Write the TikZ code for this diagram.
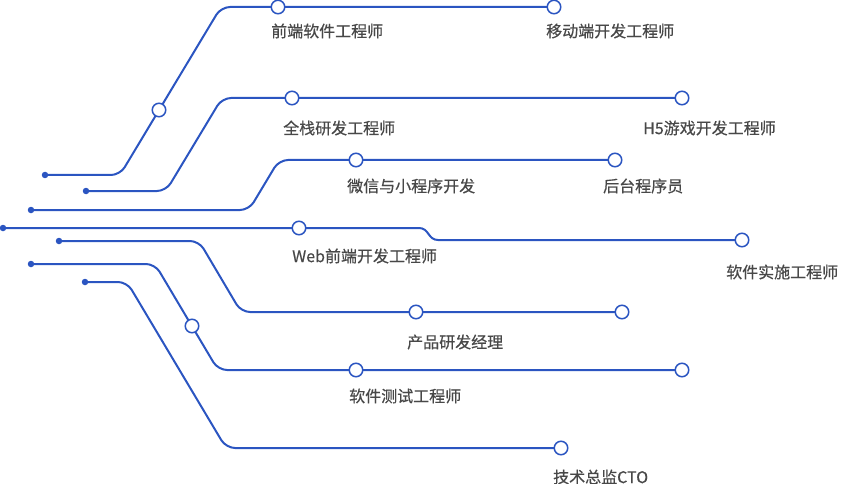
\documentclass[tikz,border=0pt]{standalone}
\usepackage{fontspec}
\setmainfont{Noto Sans CJK SC}
\newfontfamily\jobfont[FakeBold=0.5]{Noto Sans CJK SC}
\usetikzlibrary{backgrounds}
\definecolor{metro}{HTML}{2B55C1}
\definecolor{inkgray}{HTML}{484848}
\begin{document}
\begin{tikzpicture}[x=1pt,y=-1pt,
    route/.style={draw=metro,line width=2pt,rounded corners=9pt},
    origin/.style={circle,fill=metro,inner sep=0pt,minimum size=6.5pt},
    stop/.style={circle,draw=metro,fill=white,line width=1.5pt,inner sep=0pt,minimum size=13.5pt},
    job/.style={anchor=west,inner sep=0pt,text=inkgray,font=\jobfont\fontsize{16}{19}\selectfont}]
    \useasboundingbox (0,0) rectangle (849,484);
    % start points
    \node[origin] (d1) at (45,175) {};
    \node[origin] (d2) at (86,191) {};
    \node[origin] (d3) at (31,210) {};
    \node[origin] (d4) at (3,228) {};
    \node[origin] (d5) at (59,241) {};
    \node[origin] (d6) at (31,264) {};
    \node[origin] (d7) at (85,282) {};
    % stations
    \node[stop] (m1) at (159,110) {};
    \node[stop] (s1) at (278,7) {};
    \node[stop] (e1) at (554,7) {};
    \node[stop] (s2) at (292,98) {};
    \node[stop] (e2) at (682,98) {};
    \node[stop] (s3) at (356,160) {};
    \node[stop] (e3) at (615,160) {};
    \node[stop] (s4) at (299,228) {};
    \node[stop] (e4) at (742,240) {};
    \node[stop] (s5) at (416,312) {};
    \node[stop] (e5) at (622,312) {};
    \node[stop] (m6) at (192,326) {};
    \node[stop] (s6) at (356,370) {};
    \node[stop] (e6) at (682,370) {};
    \node[stop] (e7) at (561,448) {};
    % labels
    \node[job] (l1a) at (271,31) {前端软件工程师};
    \node[job] (l1b) at (546,31) {移动端开发工程师};
    \node[job] (l2a) at (283,128) {全栈研发工程师};
    \node[job] (l2b) at (643,128) {H5游戏开发工程师};
    \node[job] (l3a) at (347,186) {微信与小程序开发};
    \node[job] (l3b) at (603,186) {后台程序员};
    \node[job] (l4a) at (292,256) {Web前端开发工程师};
    \node[job] (l4b) at (726,272) {软件实施工程师};
    \node[job] (l5a) at (407,342) {产品研发经理};
    \node[job] (l6a) at (349,396) {软件测试工程师};
    \node[job] (l7a) at (553,477) {技术总监CTO};
    \begin{pgfonlayer}{background}
        \draw[route] (d1.center) -- (120,175) -- (221,7) -- (e1.center);
        \draw[route] (d2.center) -- (166,191) -- (222,98) -- (e2.center);
        \draw[route] (d3.center) -- (249,210) -- (279,160) -- (e3.center);
        \draw[draw=metro,line width=2pt] (d4.center) -- (419,228) .. controls (429,228) and (428,240) .. (438,240) -- (e4.center);
        \draw[route] (d5.center) -- (199,241) -- (241,312) -- (e5.center);
        \draw[route] (d6.center) -- (155,264) -- (218,370) -- (e6.center);
        \draw[route] (d7.center) -- (127,282) -- (226,448) -- (e7.center);
    \end{pgfonlayer}
\end{tikzpicture}
\end{document}
